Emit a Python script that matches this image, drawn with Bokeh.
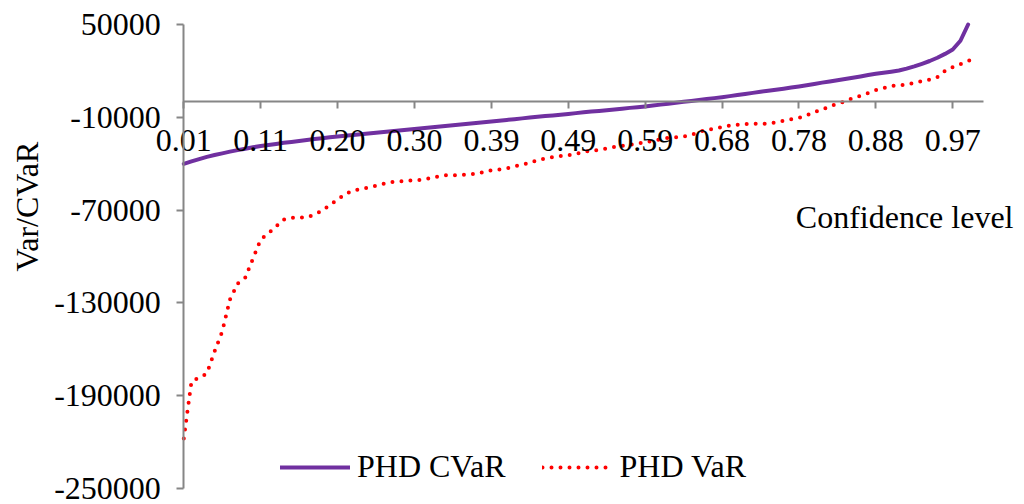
import math
from bokeh.plotting import figure
from bokeh.models import (Range1d, FixedTicker, Legend, LegendItem, Label)
from bokeh.embed import file_html
from bokeh.resources import INLINE

# ---------------- data ----------------
tick_labels = ["0.01", "0.11", "0.20", "0.30", "0.39", "0.49",
               "0.59", "0.68", "0.78", "0.88", "0.97"]
y_ticks = [-250000, -190000, -130000, -70000, -10000, 50000]

phd_cvar = [
    -40100, -38500, -37000, -35600, -34400, -33300, -32200, -31200, -30300, -29400,
    -28600, -27900, -27200, -26500, -25900, -25300, -24700, -24100, -23500, -22900,
    -22400, -21900, -21400, -20900, -20500, -20000, -19500, -19000, -18600, -18100,
    -17600, -17100, -16600, -16100, -15600, -15100, -14600, -14100, -13700, -13200,
    -12700, -12200, -11700, -11200, -10700, -10200, -9700, -9200, -8800, -8300,
    -7800, -7300, -6800, -6300, -5900, -5400, -4900, -4400, -3900, -3500,
    -3000, -2400, -1800, -1200, -600, 0, 600, 1200, 1800, 2400,
    3000, 3700, 4400, 5100, 5800, 6500, 7100, 7800, 8500, 9200,
    9900, 10700, 11500, 12400, 13200, 14000, 14800, 15600, 16400, 17300,
    18100, 18800, 19500, 20300, 21500, 22900, 24600, 26400, 28500, 31000,
    33800, 39500, 50000,
]

phd_var = [
    -217700, -180800, -178300, -175700, -161400, -148500, -127800, -117500, -113600, -101300,
    -89000, -85100, -80600, -76100, -75000, -74800, -74700, -72900, -70300, -66700,
    -63200, -59600, -57300, -56400, -55400, -54200, -53000, -51900, -51500, -51100,
    -50700, -50400, -49400, -48300, -47500, -47500, -47300, -46900, -46600, -45400,
    -44200, -43700, -43100, -41800, -40500, -39600, -37600, -36600, -35800, -35100,
    -34500, -33600, -32300, -31700, -31000, -30100, -29200, -28400, -27700, -27000,
    -26200, -25100, -24200, -23200, -22900, -22400, -21300, -19500, -18200, -17300,
    -16400, -15400, -14800, -14400, -14200, -14200, -14100, -13300, -12200, -11200,
    -10300, -8700, -6500, -5100, -2800, -1300, 200, 2500, 3900, 5700,
    7600, 8900, 10200, 10700, 11100, 12300, 13300, 14300, 16000, 20000,
    22500, 24400, 26400, 28500,
]

x_cvar = list(range(len(phd_cvar)))
x_var = list(range(len(phd_var)))
label_every = 10
tick_pos = [i * label_every for i in range(len(tick_labels))]
n_slots = 104  # category slots spanned by the horizontal axis

FONT = "Liberation Serif"
FS = "32px"
GRAY = "#868686"

# ---------------- layout (canvas pixels) ----------------
W, H = 1024, 504
FRAME_L, FRAME_R = 183.3, 983.0      # x of first slot / axis end on canvas
FRAME_T, FRAME_B = 24.0, 488.0       # y of top / bottom tick on canvas
y_top, y_bot = y_ticks[-1], y_ticks[0]

ux = (FRAME_R - FRAME_L) / n_slots
uy = (y_top - y_bot) / (FRAME_B - FRAME_T)
x_start = -FRAME_L / ux
x_end = x_start + W / ux
y_end = y_top + FRAME_T * uy
y_start = y_end - H * uy


def px_x(px):
    return x_start + px / ux


def px_y(py):
    return y_end - py * uy


# ---------------- figure ----------------
p = figure(width=W, height=H, output_backend="svg", toolbar_location=None,
           x_range=Range1d(x_start, x_end), y_range=Range1d(y_start, y_end),
           min_border=0, min_border_left=0, min_border_right=0,
           min_border_top=0, min_border_bottom=0)
p.outline_line_color = None
p.xgrid.visible = False
p.ygrid.visible = False
p.background_fill_color = "white"
p.border_fill_color = "white"

r_cvar = p.line(x_cvar, phd_cvar, line_color="#7030A0", line_width=4,
                line_join="round", line_cap="round")
r_var = p.line(x_var, phd_var, line_color="#FF0000", line_width=4,
               line_dash="0 9", line_cap="round", line_join="round")

# x axis crossing at y = 0
xa = p.xaxis[0]
xa.fixed_location = 0
xa.bounds = (0, n_slots)
xa.ticker = FixedTicker(ticks=tick_pos)
xa.major_label_overrides = {t: l for t, l in zip(tick_pos, tick_labels)}
xa.minor_tick_line_color = None
xa.major_tick_in = 0
xa.major_tick_out = 7
xa.axis_line_color = GRAY
xa.axis_line_width = 2
xa.major_tick_line_color = GRAY
xa.major_tick_line_width = 2
xa.major_label_text_font = FONT
xa.major_label_text_font_size = FS
xa.major_label_text_color = "black"
xa.major_label_standoff = 21

# y axis at x = 0
ya = p.yaxis[0]
ya.fixed_location = 0
ya.bounds = (y_bot, y_top)
ya.ticker = FixedTicker(ticks=y_ticks)
ya.major_label_overrides = {v: str(v) for v in y_ticks}
ya.minor_tick_line_color = None
ya.major_tick_in = 0
ya.major_tick_out = 7
ya.axis_line_color = GRAY
ya.axis_line_width = 2
ya.major_tick_line_color = GRAY
ya.major_tick_line_width = 2
ya.major_label_text_font = FONT
ya.major_label_text_font_size = FS
ya.major_label_text_color = "black"
ya.major_label_standoff = 16

# axis titles
p.add_layout(Label(x=px_x(26), y=px_y(206), text="Var/CVaR", angle=math.pi / 2,
                   text_align="center", text_baseline="middle",
                   text_font=FONT, text_font_size=FS, text_color="black"))
p.add_layout(Label(x=px_x(1013), y=px_y(216), text="Confidence level",
                   text_align="right", text_baseline="middle",
                   text_font=FONT, text_font_size=FS, text_color="black"))

legend = Legend(items=[LegendItem(label="PHD CVaR", renderers=[r_cvar]),
                       LegendItem(label="PHD VaR", renderers=[r_var])],
                orientation="horizontal", location=(280, 19),
                glyph_width=70, glyph_height=30, label_standoff=7, spacing=37,
                padding=0, margin=0, border_line_color=None,
                background_fill_alpha=0,
                label_text_font=FONT, label_text_font_size=FS,
                label_text_color="black")
p.add_layout(legend)

open("out.html", "w").write(file_html(p, INLINE))
